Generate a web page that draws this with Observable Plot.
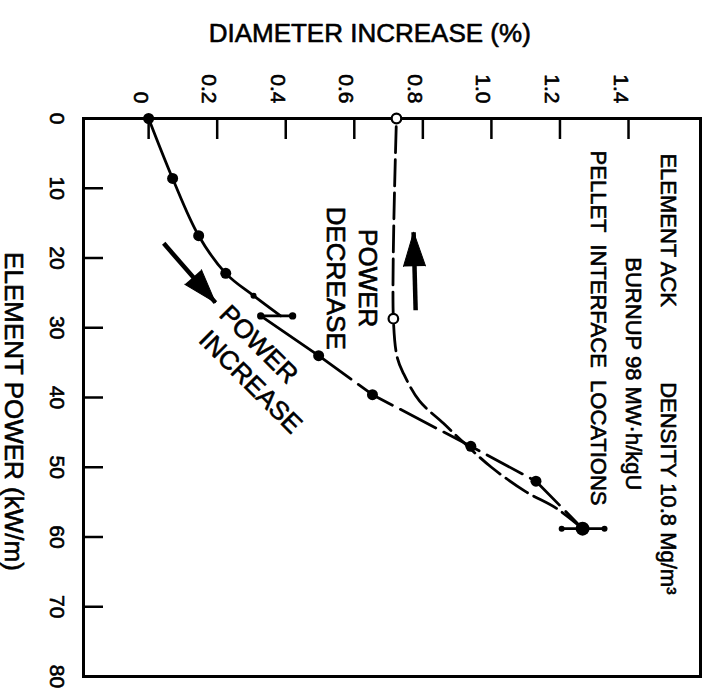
<!DOCTYPE html>
<html><head><meta charset="utf-8">
<script src="https://cdn.jsdelivr.net/npm/d3@7"></script>
<script src="https://cdn.jsdelivr.net/npm/@observablehq/plot@0.6"></script>
<style>html,body{margin:0;padding:0;background:#fff} svg{display:block}</style>
</head><body><div id="chart"></div>
<script>
// ---- axes ----
const xTicks = [0, 0.2, 0.4, 0.6, 0.8, 1.0, 1.2, 1.4];
const xTickLabels = ["0", "0.2", "0.4", "0.6", "0.8", "1.0", "1.2", "1.4"];
const yTicks = [0, 10, 20, 30, 40, 50, 60, 70, 80];
const yTickLabels = ["0", "10", "20", "30", "40", "50", "60", "70", "80"];
const xTitle = "DIAMETER INCREASE (%)";
const yTitle = "ELEMENT POWER (kW/m)";

// ---- power increase (filled circles) ----
const incPowerA = [0, 8.6, 16.8, 22.2, 25.4, 28.3];
const incDiamA  = [0, 0.07, 0.146, 0.225, 0.306, 0.385];
const incPowerB = [28.3, 34.0];
const incDiamB  = [0.327, 0.496];
const incPowerC = [34.0, 39.6, 47.0, 52.0, 58.8];
const incDiamC  = [0.496, 0.653, 0.94, 1.13, 1.266];
const dotPower  = [0, 8.6, 16.8, 22.2, 34.0, 39.6, 47.0, 52.0];
const dotDiam   = [0, 0.07, 0.146, 0.225, 0.496, 0.653, 0.94, 1.13];
const smallDotPower = [25.4];
const smallDotDiam  = [0.306];

// ---- pellet interface location ranges ----
const rangePower = [28.3, 58.8];
const rangeLo    = [0.327, 1.205];
const rangeHi    = [0.42, 1.33];
const rangeMid   = [null, 1.266];

// ---- power decrease (open circles) ----
const decPower = [58.8, 55.9, 53.5, 50.0, 46.5, 43.7, 40.5, 36.6, 34.4, 28.7, 0];
const decDiam  = [1.266, 1.19, 1.10, 1.00, 0.92, 0.86, 0.79, 0.744, 0.726, 0.714, 0.723];
const openPower = [28.7, 0];
const openDiam  = [0.714, 0.723];

// ---- arrows (tail -> tip) ----
const arrowDiam1  = [0.044, 0.779];
const arrowPower1 = [17.9, 27.5];
const arrowDiam2  = [0.195, 0.773];
const arrowPower2 = [26.4, 16.3];

// ---- annotations ----
const notes = [
  {t: "ELEMENT ACK", x: 1.514, y: 5.0, a: "start", r: 90},
  {t: "DENSITY 10.8 Mg/m\u00B3", x: 1.514, y: 37.8, a: "start", r: 90},
  {t: "BURNUP 98 MW\u00B7h/kgU", x: 1.414, y: 19.9, a: "start", r: 90},
  {t: "PELLET  INTERFACE  LOCATIONS", x: 1.312, y: 4.6, a: "start", r: 90},
  {t: "POWER", x: 0.639, y: 22.9, a: "middle", r: 90},
  {t: "DECREASE", x: 0.545, y: 22.9, a: "middle", r: 90},
  {t: "POWER", x: 0.321, y: 32.4, a: "middle", r: 45},
  {t: "INCREASE", x: 0.297, y: 37.8, a: "middle", r: 45}
];

const zip = (xs, ys) => xs.map((x, i) => ({x, y: ys[i]}));

const W = 709, H = 695;
const mT = 118, mB = 19, mL = 83, mR = 9;
const xDomain = [-0.19, 1.61], yDomain = [0, 80];
const sx = (W - mL - mR) / (xDomain[1] - xDomain[0]);
const sy = (H - mT - mB) / (yDomain[1] - yDomain[0]);
const arrows = arrowDiam1.map((x1, i) => {
  const x2 = arrowDiam2[i], y1 = arrowPower1[i], y2 = arrowPower2[i];
  const dx = (x2 - x1) * sx, dy = (y2 - y1) * sy;
  return {x1, y1, x2, y2, angle: Math.atan2(dx, -dy) * 180 / Math.PI};
});

const font = "'Liberation Sans', Arial, Helvetica, sans-serif";
const ink = {fill: "#000", stroke: "#000", strokeWidth: 0.6};

const plot = Plot.plot({
  width: W, height: H,
  marginTop: mT, marginBottom: mB, marginLeft: mL, marginRight: mR,
  style: {fontFamily: font, background: "#fff", color: "#000"},
  x: {domain: xDomain, axis: null},
  y: {domain: yDomain, reverse: true, axis: null},
  marks: [
    Plot.frame({stroke: "#000", strokeWidth: 3}),
    Plot.axisX(xTicks, {anchor: "top", tickSize: -20, tickFormat: () => "", strokeWidth: 2.5}),
    Plot.axisY(yTicks, {anchor: "left", tickSize: -20, tickFormat: () => "", strokeWidth: 2.5}),
    Plot.text(xTicks, {x: d => d, text: (d, i) => xTickLabels[i], frameAnchor: "top", dy: -15, rotate: 90, textAnchor: "end", fontSize: 21, ...ink}),
    Plot.text(yTicks, {y: d => d, text: (d, i) => yTickLabels[i], frameAnchor: "left", dx: -27, rotate: 90, textAnchor: "middle", fontSize: 21, ...ink}),
    Plot.text([xTitle], {x: 0.645, text: d => d, frameAnchor: "top", dy: -95, fontSize: 26, ...ink, style: "letter-spacing:0.6px"}),
    Plot.text([yTitle], {y: 42, text: d => d, frameAnchor: "left", dx: -70, rotate: 90, textAnchor: "middle", fontSize: 26, ...ink}),
    // power decrease
    Plot.line(zip(decDiam, decPower), {x: "x", y: "y", curve: "catmull-rom", stroke: "#000", strokeWidth: 2.8, strokeDasharray: "26,7"}),
    // power increase
    Plot.line(zip(incDiamA, incPowerA), {x: "x", y: "y", curve: "catmull-rom", stroke: "#000", strokeWidth: 2.8}),
    Plot.line(zip(incDiamB, incPowerB), {x: "x", y: "y", stroke: "#000", strokeWidth: 2.8}),
    Plot.line(zip(incDiamC, incPowerC), {x: "x", y: "y", stroke: "#000", strokeWidth: 2.8, strokeDasharray: "40,9"}),
    // ranges
    Plot.ruleY(rangePower.map((p, i) => ({p, lo: rangeLo[i], hi: rangeHi[i]})), {y: "p", x1: "lo", x2: "hi", stroke: "#000", strokeWidth: 2.8}),
    Plot.dot(rangePower.map((p, i) => ({p, v: rangeLo[i], r: i === 0 ? 6 : 4})).concat(rangePower.map((p, i) => ({p, v: rangeHi[i], r: i === 0 ? 6 : 4}))), {x: "v", y: "p", r: "r", fill: "#000"}),
    Plot.dot(rangePower.map((p, i) => ({p, v: rangeMid[i]})).filter(d => d.v != null), {x: "v", y: "p", r: 7, fill: "#000"}),
    Plot.dot(zip(dotDiam, dotPower), {x: "x", y: "y", r: 5.5, fill: "#000"}),
    Plot.dot(zip(smallDotDiam, smallDotPower), {x: "x", y: "y", r: 3, fill: "#000"}),
    Plot.dot(zip(openDiam, openPower), {x: "x", y: "y", r: 4.8, fill: "#fff", stroke: "#000", strokeWidth: 2.2}),
    // arrows
    Plot.link(arrows, {x1: "x1", y1: "y1", x2: "x2", y2: "y2", stroke: "#000", strokeWidth: 4.5}),
    Plot.vector(arrows, {x: "x2", y: "y2", rotate: "angle", length: 34, r: 11, anchor: "end", shape: "spike", fill: "#000", stroke: "#000", strokeWidth: 1}),
    // annotations
    Plot.text(notes, {x: "x", y: "y", text: "t", rotate: "r", textAnchor: "start", filter: d => d.a === "start", fontSize: 22, ...ink}),
    Plot.text(notes, {x: "x", y: "y", text: "t", rotate: "r", textAnchor: "middle", filter: d => d.a === "middle", fontSize: 26, ...ink})
  ]
});
document.getElementById("chart").appendChild(plot);
</script>
</body></html>
